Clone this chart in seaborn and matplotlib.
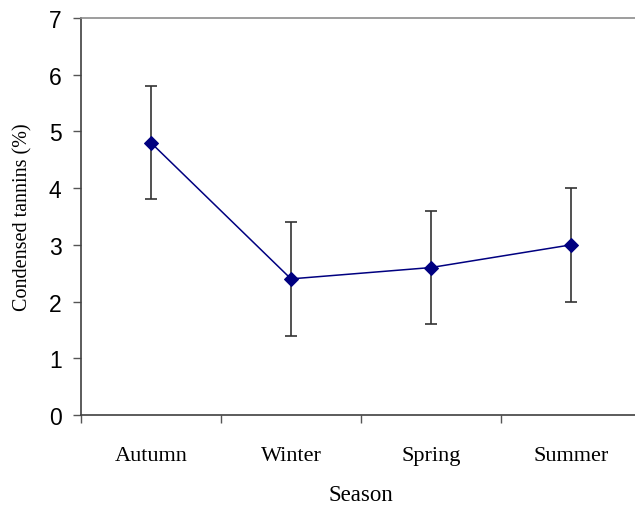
import numpy as np
import pandas as pd
import matplotlib
matplotlib.use("Agg")
import matplotlib.pyplot as plt
import seaborn as sns
from matplotlib.ticker import FixedLocator, NullFormatter

# data
seasons = ["Autumn", "Winter", "Spring", "Summer"]
tannins = [4.8, 2.4, 2.6, 3.0]
errors = [1.0, 1.0, 1.0, 1.0]

df = pd.DataFrame({"Season": seasons, "Tannins": tannins})

sns.set_style("white")

fig = plt.figure(figsize=(6.35, 5.06), dpi=100)
ax = fig.add_axes([81 / 635, 90 / 506, 560 / 635, 397 / 506])

pos = np.arange(len(seasons))

# error bars first so the line and markers sit on top
ax.errorbar(pos, tannins, yerr=errors, fmt="none", ecolor="#333333",
            elinewidth=1.2, capsize=4.5, capthick=1.2, zorder=2)

sns.lineplot(x=pos, y=df["Tannins"], color="#000080", linewidth=1.1,
             marker="D", markersize=7, markeredgecolor="#000080", ax=ax, zorder=3)

ax.set_xlim(-0.5, 3.5)
ax.set_ylim(0, 7)
ax.set_yticks(range(0, 8))

# category axis: ticks between categories, labels in the middle
ax.xaxis.set_major_locator(FixedLocator(np.arange(-0.5, 4.0, 1.0)))
ax.xaxis.set_major_formatter(NullFormatter())
ax.xaxis.set_minor_locator(FixedLocator(pos))
ax.set_xticklabels(seasons, minor=True)
ax.tick_params(axis="x", which="major", bottom=True, direction="out", length=6, width=1,
               color="#555555")
ax.tick_params(axis="x", which="minor", bottom=True, length=0, pad=22, labelcolor="black")
ax.tick_params(axis="y", left=True, direction="out", length=6, width=1, color="#555555",
               pad=8, labelcolor="black")

for lab in ax.get_xticklabels(minor=True):
    lab.set_fontfamily("Liberation Serif")
    lab.set_fontsize(16)
for lab in ax.get_yticklabels():
    lab.set_fontfamily("Liberation Sans")
    lab.set_fontsize(16.5)

ax.spines["left"].set_color("#404040")
ax.spines["bottom"].set_color("#404040")
ax.spines["top"].set_color("#8c8c8c")
ax.spines["right"].set_visible(False)
for s in ["left", "bottom", "top"]:
    ax.spines[s].set_linewidth(1.2)

ax.set_xlabel("Season", fontfamily="Liberation Serif", fontsize=16.5, labelpad=14, color="black")
ax.set_ylabel("Condensed tannins (%)", fontfamily="Liberation Serif", fontsize=14.5,
              labelpad=12, color="black")

fig.savefig("out.png", dpi=100)
